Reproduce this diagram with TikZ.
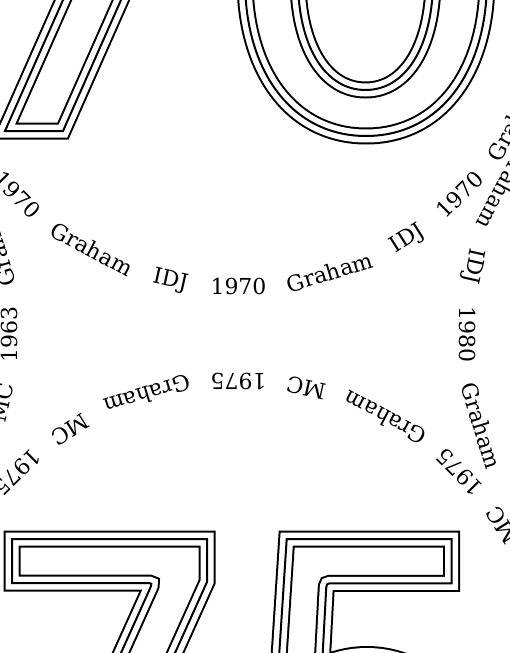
\documentclass[tikz,border=0pt]{standalone}
\usepackage{fontspec}
\setmainfont{DejaVu Serif}
\tikzset{
  triple/.style={line width=2pt, line join=miter,
    preaction={draw=black, line width=17pt},
    preaction={draw=white, line width=13pt},
    draw=black},
  word/.style={anchor=base, inner sep=0pt, font=\fontsize{22}{26}\selectfont}
}
\begin{document}
\begin{tikzpicture}[x=1pt,y=1pt]
\useasboundingbox (0,-653) rectangle (509,0);
\clip (0,-653) rectangle (509,0);
% centres of the text rings
\coordinate (c70) at (238.5,26.5);
\coordinate (c75) at (238.5,-693.5);
\coordinate (c63) at (-303,-334.5);
\coordinate (c80) at (780,-334.5);
% big outlined digits "70"
\draw[triple] (5,-131) -- (63,-131) -- (147.6,60) -- (89.6,60) -- cycle;
\draw[triple] (245,20) .. controls (245,-73.6) and (293.4,-136) .. (366,-136)
  .. controls (438.6,-136) and (487,-73.6) .. (487,20)
  .. controls (487,113.6) and (438.6,176) .. (366,176)
  .. controls (293.4,176) and (245,113.6) .. cycle;
\draw[triple] (298,20) .. controls (298,-46) and (325,-90) .. (365.5,-90)
  .. controls (406,-90) and (433,-46) .. (433,20)
  .. controls (433,86) and (406,130) .. (365.5,130)
  .. controls (325,130) and (298,86) .. cycle;
% big outlined digits "75"
\draw[triple] (12,-539) -- (207,-539) -- (207,-582) -- (158.3,-690) -- (104.3,-690)
  -- (149.6,-589.4) .. controls (152.5,-583) .. (145.5,-583) -- (12,-583) -- cycle;
\draw[triple] (286.7,-539) -- (451.7,-539) -- (451.7,-583.3) -- (333.5,-583.3)
  .. controls (326.5,-583.3) .. (326.1,-590.3) -- (322.1,-664.2)
  arc[start angle=114.4, end angle=0, radius=108.5] -- (475.5,-780) -- (271,-780) -- cycle;
% ring texts
\foreach \a/\t/\n in {-135/1970/ta1, -118/Graham/ta2, -102.5/IDJ/ta3, -90/1970/ta4,
  -73/Graham/ta5, -57.5/IDJ/ta6, -45/1970/ta7, -28/Graham/ta8}
  \path (c70) ++(\a:320.5) node[word, rotate=\a+90] (\n) {\t};
\foreach \a/\t/\n in {32.5/MC/tb1, 45/1975/tb2, 62/Graham/tb3, 77.5/MC/tb4,
  90/1975/tb5, 107/Graham/tb6, 122.5/MC/tb7, 135/1975/tb8}
  \path (c75) ++(\a:320.5) node[word, rotate=\a+90] (\n) {\t};
\foreach \a/\t/\n in {17/Graham/tc1, 0/1963/tc2, -12.5/MC/tc3}
  \path (c63) ++(\a:320.5) node[word, rotate=\a+90] (\n) {\t};
\foreach \a/\t/\n in {152/Graham/td1, 167.5/IDJ/td2, 180/1980/td3, 197/Graham/td4}
  \path (c80) ++(\a:320.5) node[word, rotate=\a+90] (\n) {\t};
\end{tikzpicture}
\end{document}
